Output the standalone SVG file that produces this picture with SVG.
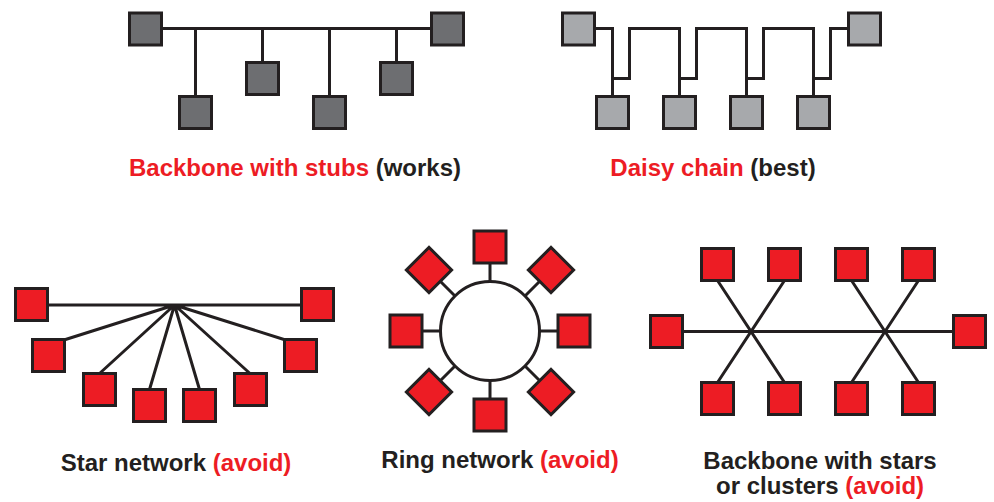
<svg xmlns="http://www.w3.org/2000/svg" width="994" height="502" viewBox="0 0 994 502">
<defs>
<style>
.dk{fill:#6d6e71;stroke:#231f20;stroke-width:3}
.lt{fill:#a7a9ac;stroke:#231f20;stroke-width:3}
.rd{fill:#ed1c24;stroke:#231f20;stroke-width:3}
.ln{fill:none;stroke:#231f20;stroke-width:3;stroke-linejoin:miter;stroke-linecap:butt}
.ring{fill:#ffffff;stroke:#231f20;stroke-width:3}
.lbl{font-family:"Liberation Sans",Arial,sans-serif;font-weight:bold;font-size:24px;text-anchor:middle}
.r{fill:#ed1c24}
.k{fill:#231f20}
</style>
</defs>
<rect width="994" height="502" fill="#ffffff"/>

<!-- Connectors -->
<g id="connectors" class="ln">
  <!-- backbone with stubs -->
  <path d="M161,28.5 H432 M195.5,28.5 V97 M262.5,28.5 V63 M329.5,28.5 V97 M396.5,28.5 V63"/>
  <!-- daisy chain -->
  <path d="M594,28.5 H612.5 V97 M612.5,78.5 H629.5 V28.5 H679.5 V97 M679.5,78.5 H696.5 V28.5 H746.5 V97 M746.5,78.5 H763.5 V28.5 H813.5 V97 M813.5,78.5 H830.5 V28.5 H849"/>
  <!-- star -->
  <path d="M47,305 H302 M174.5,305 L65.5,339.5 M174.5,305 L99.5,373.5 M174.5,305 L149.5,389.5 M174.5,305 L199.5,389.5 M174.5,305 L250,373.5 M174.5,305 L284,339.5"/>
  <!-- ring -->
  <path d="M490,263 V281.5 M490,380.5 V399 M422,331 H440.5 M539.5,331 H558 M439.5,280.5 L456,297 M540.5,280.5 L524,297 M439.5,381.5 L456,365 M540.5,381.5 L524,365"/>
  <!-- backbone with stars -->
  <path d="M682,331.5 H955 M717.5,280.5 L784.5,382.5 M784.5,280.5 L717.5,382.5 M851.5,280.5 L918.5,382.5 M918.5,280.5 L851.5,382.5"/>
</g>

<!-- Backbone with stubs -->
<g id="stub-n1"><rect class="dk" x="129.5" y="13" width="32" height="32"/></g>
<g id="stub-n2"><rect class="dk" x="431.5" y="13" width="32" height="32"/></g>
<g id="stub-n3"><rect class="dk" x="179.5" y="96.5" width="32" height="32"/></g>
<g id="stub-n4"><rect class="dk" x="246.5" y="62.5" width="32" height="32"/></g>
<g id="stub-n5"><rect class="dk" x="313.5" y="96.5" width="32" height="32"/></g>
<g id="stub-n6"><rect class="dk" x="380.5" y="62.5" width="32" height="32"/></g>

<!-- Daisy chain -->
<g id="daisy-n1"><rect class="lt" x="562.5" y="13" width="32" height="32"/></g>
<g id="daisy-n2"><rect class="lt" x="848.5" y="13" width="32" height="32"/></g>
<g id="daisy-n3"><rect class="lt" x="596.5" y="96.5" width="32" height="32"/></g>
<g id="daisy-n4"><rect class="lt" x="663.5" y="96.5" width="32" height="32"/></g>
<g id="daisy-n5"><rect class="lt" x="730.5" y="96.5" width="32" height="32"/></g>
<g id="daisy-n6"><rect class="lt" x="797.5" y="96.5" width="32" height="32"/></g>

<!-- Star network -->
<g id="star-n1"><rect class="rd" x="15.5" y="288.5" width="32" height="32"/></g>
<g id="star-n2"><rect class="rd" x="301.5" y="288.5" width="32" height="32"/></g>
<g id="star-n3"><rect class="rd" x="32.5" y="339.5" width="32" height="32"/></g>
<g id="star-n4"><rect class="rd" x="284.5" y="339.5" width="32" height="32"/></g>
<g id="star-n5"><rect class="rd" x="83.5" y="373.5" width="32" height="32"/></g>
<g id="star-n6"><rect class="rd" x="234.5" y="373.5" width="32" height="32"/></g>
<g id="star-n7"><rect class="rd" x="133.5" y="389.5" width="32" height="32"/></g>
<g id="star-n8"><rect class="rd" x="183.5" y="389.5" width="32" height="32"/></g>

<!-- Ring network -->
<g id="ring-hub"><circle class="ring" cx="490" cy="331" r="49.5"/></g>
<g id="ring-n1"><rect class="rd" x="474" y="231" width="32" height="32"/></g>
<g id="ring-n2"><rect class="rd" x="474" y="399" width="32" height="32"/></g>
<g id="ring-n3"><rect class="rd" x="390" y="315" width="32" height="32"/></g>
<g id="ring-n4"><rect class="rd" x="558" y="315" width="32" height="32"/></g>
<g id="ring-n5"><rect class="rd" x="-16" y="-16" width="32" height="32" transform="translate(429,270) rotate(45)"/></g>
<g id="ring-n6"><rect class="rd" x="-16" y="-16" width="32" height="32" transform="translate(551,270) rotate(45)"/></g>
<g id="ring-n7"><rect class="rd" x="-16" y="-16" width="32" height="32" transform="translate(429,392) rotate(45)"/></g>
<g id="ring-n8"><rect class="rd" x="-16" y="-16" width="32" height="32" transform="translate(551,392) rotate(45)"/></g>

<!-- Backbone with stars -->
<g id="bs-n1"><rect class="rd" x="650.5" y="315.5" width="32" height="32"/></g>
<g id="bs-n2"><rect class="rd" x="953.5" y="315.5" width="32" height="32"/></g>
<g id="bs-n3"><rect class="rd" x="701.5" y="248.5" width="32" height="32"/></g>
<g id="bs-n4"><rect class="rd" x="768.5" y="248.5" width="32" height="32"/></g>
<g id="bs-n5"><rect class="rd" x="835.5" y="248.5" width="32" height="32"/></g>
<g id="bs-n6"><rect class="rd" x="902.5" y="248.5" width="32" height="32"/></g>
<g id="bs-n7"><rect class="rd" x="701.5" y="382.5" width="32" height="32"/></g>
<g id="bs-n8"><rect class="rd" x="768.5" y="382.5" width="32" height="32"/></g>
<g id="bs-n9"><rect class="rd" x="835.5" y="382.5" width="32" height="32"/></g>
<g id="bs-n10"><rect class="rd" x="902.5" y="382.5" width="32" height="32"/></g>

<!-- Labels -->
<g id="labels" class="lbl">
  <text x="295" y="176"><tspan class="r">Backbone with stubs </tspan><tspan class="k">(works)</tspan></text>
  <text x="713" y="176"><tspan class="r">Daisy chain </tspan><tspan class="k">(best)</tspan></text>
  <text x="176" y="471"><tspan class="k">Star network </tspan><tspan class="r">(avoid)</tspan></text>
  <text x="500" y="468"><tspan class="k">Ring network </tspan><tspan class="r">(avoid)</tspan></text>
  <text x="820" y="469" class="k">Backbone with stars</text>
  <text x="820" y="494"><tspan class="k">or clusters </tspan><tspan class="r">(avoid)</tspan></text>
</g>
</svg>
